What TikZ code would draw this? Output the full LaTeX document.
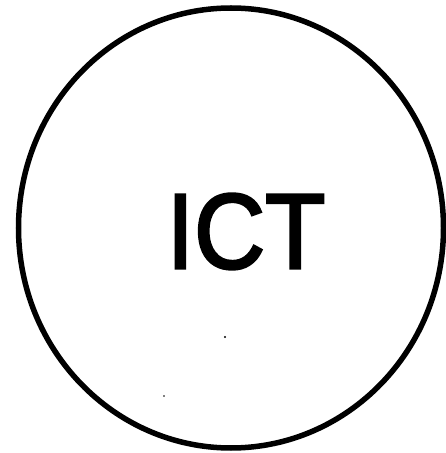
\documentclass[tikz,border=0pt]{standalone}
\usepackage{fontspec}
\setmainfont{Liberation Sans}
\newfontfamily\ictfont[FakeBold=2.5]{Liberation Sans}
\begin{document}
\begin{tikzpicture}[x=1pt,y=1pt,
  ring/.style={draw=black, line width=5.5pt},
  label/.style={inner sep=0pt, font=\ictfont\fontsize{107}{110}\selectfont, xscale=0.92},
  speck/.style={fill=black}]
\useasboundingbox (0,0) rectangle (446,453);
\fill[white] (0,0) rectangle (446,453);
\draw[ring] (231,225) ellipse [x radius=212.5, y radius=220];
\node[label] (ict) at (246,221.5) {ICT};
\fill[speck] (225,116) circle (1.1);
\fill[speck] (164,57) circle (0.9);
\end{tikzpicture}
\end{document}
